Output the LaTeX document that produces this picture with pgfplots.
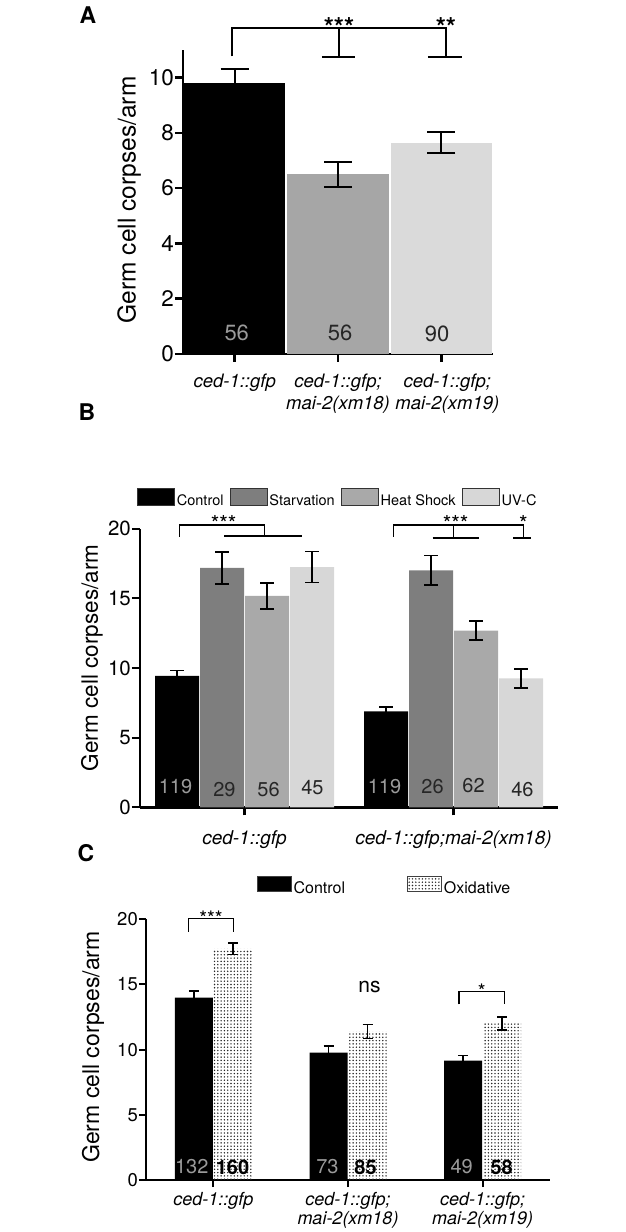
\documentclass[border=0pt]{standalone}
\usepackage{fontspec}
\setmainfont{TeX Gyre Heros}
\usepackage{pgfplots}
\pgfplotsset{compat=1.18}
\usetikzlibrary{patterns}
\pgfdeclarepatternformonly{finedots}{\pgfqpoint{-1pt}{-1pt}}{\pgfqpoint{2.3pt}{2.3pt}}{\pgfqpoint{3.3pt}{3.3pt}}{%
  \pgfpathcircle{\pgfqpoint{0pt}{0pt}}{0.8pt}\pgfusepath{fill}}
\definecolor{gA}{HTML}{A6A6A6}
\definecolor{lA}{HTML}{DADADA}
\definecolor{dB}{HTML}{7E7E7E}
\definecolor{mB}{HTML}{A9A9A9}
\definecolor{lB}{HTML}{D7D7D7}
\definecolor{numgray}{HTML}{9A9A9A}
\definecolor{numdark}{HTML}{262626}
\newcommand{\fs}[1]{\fontsize{#1}{#1}\selectfont}
\newcommand{\fsb}[2]{\fontsize{#1}{#2}\selectfont}
\pgfplotsset{
  ebA/.style={/pgfplots/error bars/.cd, y dir=both, y explicit,
    error bar style={line width=2pt, black},
    error mark options={rotate=90, mark size=14pt, line width=2pt, black}},
  ebB/.style={/pgfplots/error bars/.cd, y dir=both, y explicit,
    error bar style={line width=1.6pt, black},
    error mark options={rotate=90, mark size=7pt, line width=1.6pt, black}},
  ebC/.style={/pgfplots/error bars/.cd, y dir=both, y explicit,
    error bar style={line width=1.4pt, black},
    error mark options={rotate=90, mark size=5pt, line width=1.4pt, black}},
}

\begin{document}
\begin{tikzpicture}
\path[use as bounding box] (0pt,0pt) rectangle (625pt,1232pt);

%================ Panel A =================
\begin{axis}[
  at={(183pt,878pt)}, anchor=south west,
  scale only axis, width=310pt, height=304pt,
  xmin=-0.5, xmax=2.5, ymin=0, ymax=11,
  axis x line=bottom, axis y line=left,
  axis line style={-, line width=2.8pt},
  tick style={black, line width=2.5pt},
  major tick length=8pt, tick align=outside,
  ytick={0,2,4,6,8,10},
  xtick={0,1,2},
  xticklabels={{ced-1::gfp}, {ced-1::gfp;\\mai-2(xm18)}, {\hspace*{12pt}ced-1::gfp;\\\hspace*{12pt}mai-2(xm19)}},
  xticklabel style={font=\fsb{18.5}{22}\itshape, align=center, yshift=-8pt},
  yticklabel style={font=\fs{22.5}, inner sep=1pt},
  /pgf/number format/assume math mode=true,
  ylabel={Germ cell corpses/arm},
  ylabel style={at={(axis description cs:-0.174,0.507)}, anchor=center, font=\fs{24.5}},
  ybar, bar shift=0pt, bar width=0.98,
  clip=false,
]
\addplot[draw=none, fill=black, ebA] coordinates {(0,9.82) +- (0,0.48)};
\addplot[draw=none, fill=gA, ebA] coordinates {(1,6.51) +- (0,0.45)};
\addplot[draw=none, fill=lA, ebA] coordinates {(2,7.65) +- (0,0.39)};
\node[font=\fs{22}, text=numgray] at (axis cs:0.02,0.76) {56};
\node[font=\fs{22}, text=numdark] at (axis cs:1.02,0.76) {56};
\node[font=\fs{22}, text=numdark] at (axis cs:1.96,0.74) {90};
\draw[line width=2pt] (axis cs:-0.03,10.77) -- (axis cs:-0.03,11.78) -- (axis cs:2.045,11.78) -- (axis cs:2.045,10.76);
\draw[line width=2pt] (axis cs:1.01,11.78) -- (axis cs:1.01,10.76);
\draw[line width=2pt] (axis cs:0.845,10.76) -- (axis cs:1.165,10.76);
\draw[line width=2pt] (axis cs:1.87,10.76) -- (axis cs:2.2,10.76);
\node[font=\fs{26}\bfseries, anchor=south, inner sep=0pt, yshift=-8pt] at (axis cs:1.01,11.78) {***};
\node[font=\fs{26}\bfseries, anchor=south, inner sep=0pt, yshift=-8pt] at (axis cs:2.045,11.78) {**};
\end{axis}
\node[font=\fs{23}\bfseries] at (88pt,1217pt) {A};

%================ Panel B =================
\begin{axis}[
  at={(140pt,424.7pt)}, anchor=south west,
  scale only axis, width=418pt, height=278.6pt,
  xmin=-0.5, xmax=1.5, ymin=0, ymax=20,
  axis x line=bottom, axis y line=left,
  axis line style={-, line width=2.5pt},
  tick style={black, line width=2.2pt},
  major tick length=8pt, tick align=outside,
  ytick={0,5,10,15,20},
  xtick={0,1},
  xticklabels={{ced-1::gfp}, {ced-1::gfp;mai-2(xm18)}},
  xticklabel style={font=\fs{19}\itshape, yshift=-12pt},
  yticklabel style={font=\fs{20.5}, inner sep=1pt},
  /pgf/number format/assume math mode=true,
  ylabel={Germ cell corpses/arm},
  ylabel style={at={(axis description cs:-0.115,0.536)}, anchor=center, font=\fs{22.5}},
  ybar=1pt, bar width=44pt,
  clip=false,
  legend columns=4,
  legend style={draw=none, fill=none, inner sep=0pt, outer sep=0pt, font=\fs{14.5},
    at={(axis description cs:-0.0072,1.108)}, anchor=west,
    column sep=0pt, nodes={inner sep=2pt},
    /tikz/every even column/.append style={column sep=4pt}},
  legend image code/.code={\draw[#1, draw=black!80, line width=0.9pt] (0pt,-4.5pt) rectangle (37pt,12.5pt);},
]
\addplot[draw=none, fill=black, ebB] coordinates {(0,9.43) +- (0,0.38) (1,6.89) +- (0,0.29)};
\addplot[draw=none, fill=dB, ebB] coordinates {(0,17.18) +- (0,1.13) (1,17.01) +- (0,1.07)};
\addplot[draw=none, fill=mB, ebB] coordinates {(0,15.17) +- (0,0.95) (1,12.68) +- (0,0.68)};
\addplot[draw=none, fill=lB, ebB] coordinates {(0,17.25) +- (0,1.10) (1,9.26) +- (0,0.68)};
\legend{Control,Starvation,Heat Shock,UV-C}
\node[font=\fs{20}, text=numgray] at (axis cs:-0.330,1.46) {119};
\node[font=\fs{20}, text=numdark] at (axis cs:-0.096,1.24) {29};
\node[font=\fs{20}, text=numdark] at (axis cs:0.115,1.24) {56};
\node[font=\fs{20}, text=numdark] at (axis cs:0.325,1.39) {45};
\node[font=\fs{20}, text=numgray] at (axis cs:0.670,1.46) {119};
\node[font=\fs{20}, text=numdark] at (axis cs:0.900,1.46) {26};
\node[font=\fs{20}, text=numdark] at (axis cs:1.096,1.55) {62};
\node[font=\fs{20}, text=numdark] at (axis cs:1.330,1.24) {46};
\draw[line width=1.6pt] (axis cs:-0.311,19.43) -- (axis cs:-0.311,20.27) -- (axis cs:0.096,20.27) -- (axis cs:0.096,19.47);
\draw[line width=1.6pt] (axis cs:-0.096,19.47) -- (axis cs:0.273,19.47);
\draw[line width=1.6pt] (axis cs:0.713,19.43) -- (axis cs:0.713,20.27) -- (axis cs:1.335,20.27) -- (axis cs:1.335,19.35);
\draw[line width=1.6pt] (axis cs:1.0,20.27) -- (axis cs:1.0,19.35);
\draw[line width=1.6pt] (axis cs:0.9,19.35) -- (axis cs:1.124,19.35);
\draw[line width=1.6pt] (axis cs:1.287,19.35) -- (axis cs:1.373,19.35);
\node[font=\fs{22}, anchor=south, inner sep=0pt, yshift=-7pt] at (axis cs:-0.1,20.27) {***};
\node[font=\fs{22}, anchor=south, inner sep=0pt, yshift=-7pt] at (axis cs:1.01,20.27) {***};
\node[font=\fs{22}, anchor=south, inner sep=0pt, yshift=-7pt] at (axis cs:1.335,20.27) {*};
\end{axis}
\node[font=\fs{23}\bfseries] at (87pt,820pt) {B};

%================ Panel C =================
\begin{axis}[
  at={(146pt,52pt)}, anchor=south west,
  scale only axis, width=404pt, height=260.7pt,
  xmin=-0.5, xmax=2.5, ymin=0, ymax=20,
  axis x line=bottom, axis y line=left,
  axis line style={-, line width=2.2pt},
  tick style={black, line width=2pt},
  major tick length=7pt, tick align=outside,
  ytick={0,5,10,15,20},
  xtick={0,1,2},
  xticklabels={{ced-1::gfp}, {ced-1::gfp;\\mai-2(xm18)}, {ced-1::gfp;\\mai-2(xm19)}},
  xticklabel style={font=\fsb{18}{19}\itshape, align=center, yshift=-2pt},
  yticklabel style={font=\fs{18.5}, inner sep=1pt},
  /pgf/number format/assume math mode=true,
  ylabel={Germ cell corpses/arm},
  ylabel style={at={(axis description cs:-0.131,0.51)}, anchor=center, font=\fs{23}},
  ybar=1pt, bar width=38pt,
  clip=false,
  legend columns=2,
  legend style={draw=none, fill=none, inner sep=0pt, outer sep=0pt, font=\fs{16},
    at={(axis description cs:0.274,1.126)}, anchor=west,
    column sep=0pt, nodes={inner sep=2pt},
    /tikz/every even column/.append style={column sep=60pt}},
  legend image code/.code={\draw[#1, draw=black!75, line width=0.9pt] (0pt,-3.5pt) rectangle (34pt,11.5pt);},
]
\addplot[draw=none, fill=black, ebC] coordinates {(0,13.99) +- (0,0.50) (1,9.77) +- (0,0.50) (2,9.16) +- (0,0.38)};
\addplot[draw=none, pattern=finedots, pattern color=black!85, ebC] coordinates {(0,17.73) +- (0,0.45) (1,11.41) +- (0,0.54) (2,12.02) +- (0,0.50)};
\legend{Control,Oxidative}
\node[font=\fs{20}, text=numgray] at (axis cs:-0.16,1.0) {132};
\node[font=\fs{20}\bfseries] at (axis cs:0.142,0.94) {160};
\node[font=\fs{20}, text=numgray] at (axis cs:0.847,1.0) {73};
\node[font=\fs{20}\bfseries] at (axis cs:1.13,0.94) {85};
\node[font=\fs{20}, text=numgray] at (axis cs:1.844,1.0) {49};
\node[font=\fs{20}\bfseries] at (axis cs:2.141,1.0) {58};
\draw[line width=1.4pt] (axis cs:-0.184,19.06) -- (axis cs:-0.184,20.06) -- (axis cs:0.15,20.06) -- (axis cs:0.15,19.06);
\draw[line width=1.4pt] (axis cs:1.824,13.48) -- (axis cs:1.824,14.48) -- (axis cs:2.163,14.48) -- (axis cs:2.163,13.48);
\node[font=\fs{20}, anchor=south, inner sep=0pt, yshift=-7pt] at (axis cs:-0.017,20.06) {***};
\node[font=\fs{20}, anchor=south, inner sep=0pt, yshift=-7pt] at (axis cs:1.994,14.48) {*};
\node[font=\fs{21}] at (axis cs:1.159,14.84) {ns};
\end{axis}
\node[font=\fs{23}\bfseries] at (86pt,379pt) {C};
\end{tikzpicture}
\end{document}
